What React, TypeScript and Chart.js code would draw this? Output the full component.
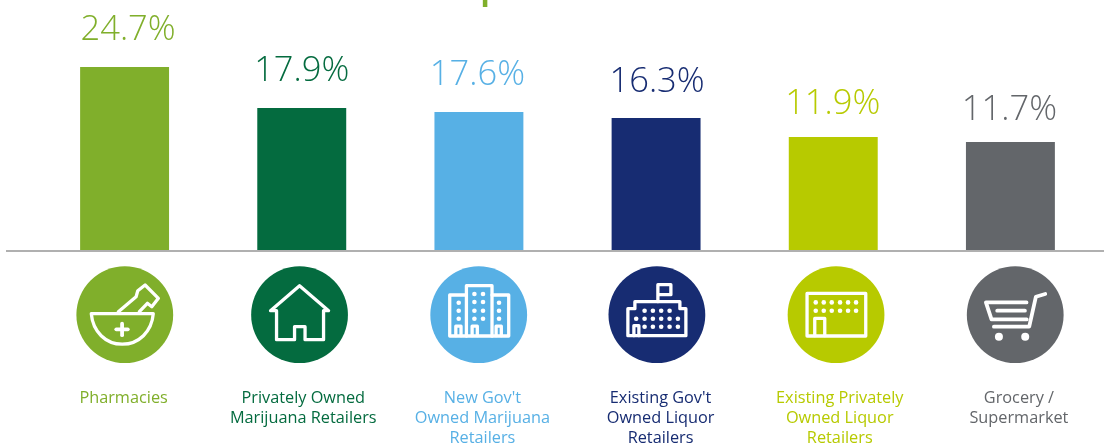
import React, { useEffect, useRef } from "react";
import { Chart, registerables } from "chart.js";

Chart.register(...registerables);

// Printed percentages
const categories = [
  ["Pharmacies"],
  ["Privately Owned", "Marijuana Retailers"],
  ["New Gov't", "Owned Marijuana", "Retailers"],
  ["Existing Gov't", "Owned Liquor", "Retailers"],
  ["Existing Privately", "Owned Liquor", "Retailers"],
  ["Grocery /", "Supermarket"],
];
const valueLabels = ["24.7%", "17.9%", "17.6%", "16.3%", "11.9%", "11.7%"];
// The bars in the picture are not proportional to the printed numbers, so their drawn lengths are read separately
const barLengths = [24.7, 19.16, 18.62, 17.81, 15.25, 14.57];
const colors = ["#80AF2B", "#046B3F", "#57B0E5", "#172C72", "#B7CA00", "#63666A"];

// Small layout nudges relative to each bar's centre
const valueDx = [3.5, 0, -1.5, 1, -0.5, -1];
const valueGap = [27, 27, 27, 26, 23, 22];
const iconDx = [0.2, -2.2, -0.2, 0.8, 2.8, 4.8];
const tickDx = [-1, 1.5, 3.5, 4.5, 6.5, 8.5];

type C = CanvasRenderingContext2D;

function dots(c: C, xs: number[], ys: number[], r = 2.3) {
  for (const y of ys) for (const x of xs) {
    c.beginPath();
    c.arc(x, y, r, 0, Math.PI * 2);
    c.fill();
  }
}
function poly(c: C, pts: number[][], close = false) {
  c.beginPath();
  pts.forEach((p, i) => (i ? c.lineTo(p[0], p[1]) : c.moveTo(p[0], p[1])));
  if (close) c.closePath();
  c.stroke();
}

const icons: ((c: C) => void)[] = [
  // mortar and pestle
  (c) => {
    c.beginPath();
    c.moveTo(-33.5, -1);
    c.lineTo(28.5, -1);
    c.bezierCurveTo(27, 17, 14, 29.5, -2.5, 29.5);
    c.bezierCurveTo(-19, 29.5, -32, 17, -33.5, -1);
    c.closePath();
    c.stroke();
    poly(c, [[-6.4, -3], [11.3, -18], [13, -24], [20.3, -29.7], [33.6, -16.4], [27, -8], [22.6, -11.4], [14.6, -3]]);
    c.save();
    c.lineWidth = 3.8;
    poly(c, [[-8.5, 14.6], [3, 14.6]]);
    poly(c, [[-2.7, 9], [-2.7, 20.5]]);
    c.restore();
  },
  // house
  (c) => {
    poly(c, [[-29, -4], [0, -29], [29, -4], [24, -4], [24, 25], [5.5, 25], [5.5, 12], [-5, 12], [-5, 25], [-23, 25], [-23, -4]], true);
  },
  // towers
  (c) => {
    poly(c, [[-12.3, 21.3], [-12.3, -29], [13.3, -29], [13.3, 21.3]]);
    poly(c, [[-12.3, -19.7], [-29, -19.7], [-29, 21.3], [30, 21.3], [30, -19.7], [13.3, -19.7]]);
    dots(c, [-4.3, 4.3], [-20.7, -12.7, -4, 4]);
    dots(c, [-20, 20.3], [-12, -4, 4]);
    for (const x of [-20.3, -4, 20]) poly(c, [[x - 2.6, 21], [x - 2.6, 11.5], [x + 2.6, 11.5], [x + 2.6, 21]]);
  },
  // government building with flag
  (c) => {
    poly(c, [[1, -13], [1, -30], [14, -30], [14, -20], [1, -20]]);
    poly(c, [[-29, 21], [-29, -6], [-22, -6], [-22, -13], [23, -13], [23, -6], [29, -6], [29, 21]], true);
    dots(c, [-12.3, -4, 4.3, 12.7], [-4]);
    dots(c, [-20.7, -12.3, -4, 4.3, 12.7, 21], [4]);
    dots(c, [-12.3, -4, 4.3, 12.7, 21], [12]);
    poly(c, [[-23, 21], [-23, 11], [-18, 11], [-18, 21]]);
  },
  // liquor store
  (c) => {
    poly(c, [[-29, -21.3], [29.7, -21.3], [29.7, 21.3], [-29, 21.3]], true);
    dots(c, [-20.3, -12.3, -4.3, 4, 12, 20], [-12.3, -4]);
    poly(c, [[-21.3, 21], [-21.3, 3.7], [-11.3, 3.7], [-11.3, 21]]);
  },
  // shopping cart
  (c) => {
    c.lineWidth = 3.8;
    poly(c, [[30, -20.7], [20.7, -18], [14, 12], [-21.3, 12]]);
    poly(c, [[11.3, -12.3], [-29.3, -12.3], [-23.7, 4.7], [11.5, 4.7]]);
    poly(c, [[-18, -4], [9.7, -4]]);
    dots(c, [-16.3, 10], [22], 4);
  },
];

const decorations = {
  id: "decorations",
  afterDatasetsDraw(chart: any) {
    const c: C = chart.ctx;
    const x = chart.scales.x;
    const y = chart.scales.y;
    const base = y.getPixelForValue(0);
    c.save();

    // cropped heading remnant at the very top
    c.fillStyle = colors[0];
    c.font = 'bold 30px "Open Sans"';
    c.textAlign = "left";
    c.textBaseline = "alphabetic";
    c.fillText("op", 462, 0);

    // axis rule
    c.fillStyle = "#B0B0B0";
    c.fillRect(6, base, 1098, 2);

    // value labels
    c.font = '300 34.5px "Open Sans"';
    c.textAlign = "center";
    barLengths.forEach((v, i) => {
      c.fillStyle = colors[i];
      c.fillText(valueLabels[i], x.getPixelForValue(i) + valueDx[i], y.getPixelForValue(v) - valueGap[i]);
    });

    // round icons
    icons.forEach((draw, i) => {
      c.save();
      c.translate(x.getPixelForValue(i) + iconDx[i], base + 64.7);
      c.fillStyle = colors[i];
      c.beginPath();
      c.arc(0, 0, 48.4, 0, Math.PI * 2);
      c.fill();
      c.strokeStyle = "#FFFFFF";
      c.fillStyle = "#FFFFFF";
      c.lineWidth = 3.3;
      c.lineJoin = "round";
      c.lineCap = "round";
      draw(c);
      c.restore();
    });
    c.restore();
  },
};

export default function App() {
  const ref = useRef<HTMLCanvasElement>(null);
  useEffect(() => {
    const chart = new Chart(ref.current!, {
      type: "bar",
      data: {
        labels: categories as any,
        datasets: [
          {
            data: barLengths,
            backgroundColor: colors,
            borderWidth: 0,
            barPercentage: 0.502,
            categoryPercentage: 1,
          },
        ],
      },
      plugins: [decorations],
      options: {
        animation: false,
        responsive: false,
        layout: { padding: { left: 36, right: 5, top: 0, bottom: 0 } },
        plugins: { legend: { display: false }, tooltip: { enabled: false }, title: { display: false } },
        scales: {
          x: {
            grid: { display: false, drawTicks: false },
            border: { display: false },
            afterBuildTicks: (s: any) => {
              s.getPixelForTick = (i: number) => s.getPixelForValue(i) + tickDx[i];
            },
            afterFit: (s: any) => {
              s.height = 194;
              s.paddingLeft = 0;
              s.paddingRight = 0;
              s.paddingTop = 0;
              s.paddingBottom = 0;
            },
            ticks: {
              autoSkip: false,
              maxRotation: 0,
              minRotation: 0,
              padding: 138,
              font: { family: '"Open Sans"', size: 16.3, lineHeight: 1.227 },
              color: (ctx: any) => colors[ctx.index],
            },
          },
          y: { display: false, min: 0, max: 33.74 },
        },
      } as any,
    });
    return () => chart.destroy();
  }, []);
  return (
    <canvas
      ref={ref}
      width={1104}
      height={444}
      style={{ position: "absolute", left: 0, top: 0, display: "block", width: 1104, height: 444 }}
    />
  );
}
